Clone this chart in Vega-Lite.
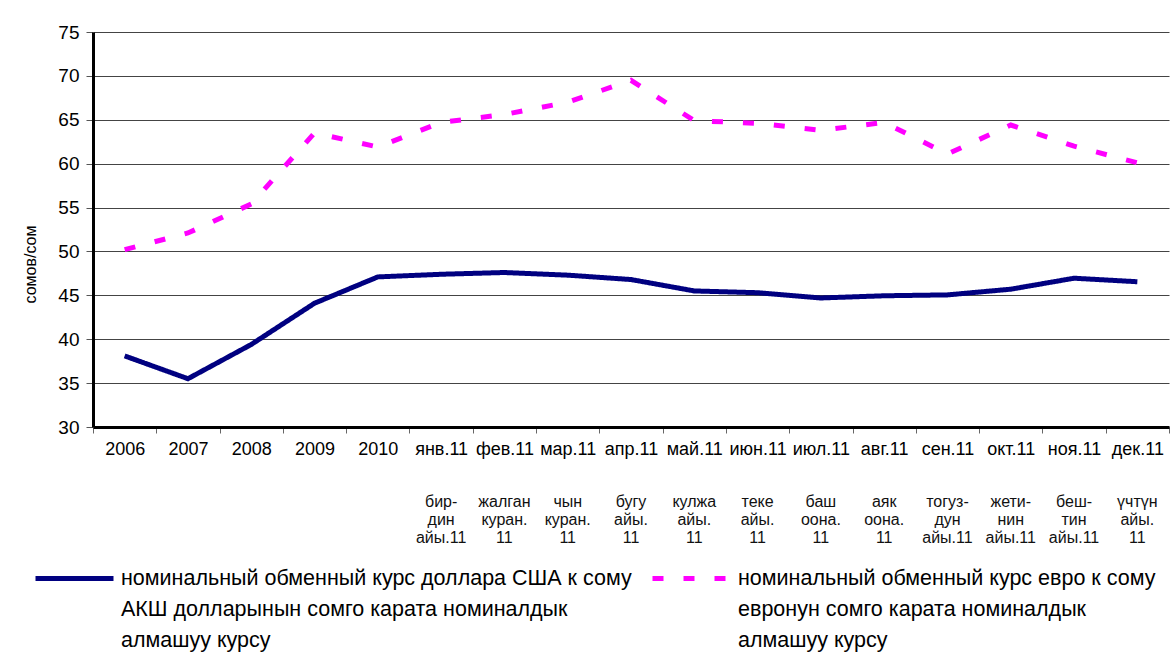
{
  "$schema": "https://vega.github.io/schema/vega-lite/v6.json",
  "width": 1076,
  "height": 395,
  "autosize": {"type": "none"},
  "padding": {"left": 93, "top": 32, "right": 2, "bottom": 228},
  "background": "white",
  "config": {"font": "Liberation Sans", "view": {"stroke": null}},
  "data": {
    "values": [
      {"cat": "2006", "series": "номинальный обменный курс доллара США к сому", "value": 38.1},
      {"cat": "2007", "series": "номинальный обменный курс доллара США к сому", "value": 35.5},
      {"cat": "2008", "series": "номинальный обменный курс доллара США к сому", "value": 39.4},
      {"cat": "2009", "series": "номинальный обменный курс доллара США к сому", "value": 44.1},
      {"cat": "2010", "series": "номинальный обменный курс доллара США к сому", "value": 47.1},
      {"cat": "янв.11", "series": "номинальный обменный курс доллара США к сому", "value": 47.4},
      {"cat": "фев.11", "series": "номинальный обменный курс доллара США к сому", "value": 47.6},
      {"cat": "мар.11", "series": "номинальный обменный курс доллара США к сому", "value": 47.3},
      {"cat": "апр.11", "series": "номинальный обменный курс доллара США к сому", "value": 46.8},
      {"cat": "май.11", "series": "номинальный обменный курс доллара США к сому", "value": 45.5},
      {"cat": "июн.11", "series": "номинальный обменный курс доллара США к сому", "value": 45.3},
      {"cat": "июл.11", "series": "номинальный обменный курс доллара США к сому", "value": 44.7},
      {"cat": "авг.11", "series": "номинальный обменный курс доллара США к сому", "value": 44.95},
      {"cat": "сен.11", "series": "номинальный обменный курс доллара США к сому", "value": 45.05},
      {"cat": "окт.11", "series": "номинальный обменный курс доллара США к сому", "value": 45.7},
      {"cat": "ноя.11", "series": "номинальный обменный курс доллара США к сому", "value": 46.95},
      {"cat": "дек.11", "series": "номинальный обменный курс доллара США к сому", "value": 46.55},
      {"cat": "2006", "series": "номинальный обменный курс евро к сому", "value": 50.2},
      {"cat": "2007", "series": "номинальный обменный курс евро к сому", "value": 52.1},
      {"cat": "2008", "series": "номинальный обменный курс евро к сому", "value": 55.4},
      {"cat": "2009", "series": "номинальный обменный курс евро к сому", "value": 63.5},
      {"cat": "2010", "series": "номинальный обменный курс евро к сому", "value": 61.9},
      {"cat": "янв.11", "series": "номинальный обменный курс евро к сому", "value": 64.7},
      {"cat": "фев.11", "series": "номинальный обменный курс евро к сому", "value": 65.6},
      {"cat": "мар.11", "series": "номинальный обменный курс евро к сому", "value": 67.0},
      {"cat": "апр.11", "series": "номинальный обменный курс евро к сому", "value": 69.5},
      {"cat": "май.11", "series": "номинальный обменный курс евро к сому", "value": 64.9},
      {"cat": "июн.11", "series": "номинальный обменный курс евро к сому", "value": 64.6},
      {"cat": "июл.11", "series": "номинальный обменный курс евро к сому", "value": 63.8},
      {"cat": "авг.11", "series": "номинальный обменный курс евро к сому", "value": 64.7},
      {"cat": "сен.11", "series": "номинальный обменный курс евро к сому", "value": 61.1},
      {"cat": "окт.11", "series": "номинальный обменный курс евро к сому", "value": 64.4},
      {"cat": "ноя.11", "series": "номинальный обменный курс евро к сому", "value": 62.0},
      {"cat": "дек.11", "series": "номинальный обменный курс евро к сому", "value": 60.1}
    ]
  },
  "layer": [
    {
      "mark": {"type": "line", "strokeWidth": 5, "strokeCap": "butt"},
      "encoding": {
        "x": {
          "field": "cat", "type": "ordinal", "sort": null,
          "scale": {"type": "band", "paddingInner": 0, "paddingOuter": 0,
            "domain": ["2006","2007","2008","2009","2010","янв.11","фев.11","мар.11","апр.11","май.11","июн.11","июл.11","авг.11","сен.11","окт.11","ноя.11","дек.11"]},
          "axis": {
            "orient": "bottom", "title": null, "labelAngle": 0, "labelFontSize": 18, "labelColor": "#000",
            "labelOverlap": false, "labelBound": false, "tickBand": "extent", "tickSize": 6, "tickColor": "#666",
            "domainColor": "#000", "domainWidth": 3, "labelPadding": 7, "grid": false
          }
        },
        "y": {
          "field": "value", "type": "quantitative",
          "scale": {"domain": [30, 75], "nice": false, "zero": false},
          "axis": {
            "values": [30, 35, 40, 45, 50, 55, 60, 65, 70, 75],
            "labelFontSize": 19, "labelColor": "#000", "tickColor": "#555", "tickSize": 7, "labelPadding": 7,
            "domainColor": "#000", "domainWidth": 3, "grid": true, "gridColor": "#444", "gridWidth": 1,
            "title": "сомов/сом", "titleFontSize": 16, "titleFontWeight": "normal", "titleColor": "#000",
            "titleX": -63, "titleY": 232, "titleAngle": 270, "titleBaseline": "middle", "titleAlign": "center"
          }
        },
        "color": {
          "field": "series", "type": "nominal",
          "scale": {"domain": ["номинальный обменный курс доллара США к сому", "номинальный обменный курс евро к сому"], "range": ["#000080", "#FF00FF"]},
          "legend": {
            "title": null, "orient": "none", "legendX": -60, "legendY": 505, "direction": "horizontal",
            "padding": 0, "columnPadding": 10, "symbolType": "stroke", "symbolSize": 6084, "symbolStrokeWidth": 5,
            "labelFontSize": 21.5, "labelColor": "#000", "labelOffset": 5, "labelLimit": 0,
            "labelExpr": "datum.label == 'номинальный обменный курс доллара США к сому' ? [datum.label, 'АКШ долларынын сомго карата номиналдык', 'алмашуу курсу'] : [datum.label, 'евронун сомго карата номиналдык', 'алмашуу курсу']",
            "encode": {"labels": {"update": {"lineHeight": {"value": 31}}}}
          }
        },
        "strokeDash": {
          "field": "series", "type": "nominal",
          "scale": {"domain": ["номинальный обменный курс доллара США к сому", "номинальный обменный курс евро к сому"], "range": [[1, 0], [11, 20]]},
          "legend": {
            "title": null, "orient": "none", "legendX": -60, "legendY": 505, "direction": "horizontal",
            "padding": 0, "columnPadding": 10, "symbolType": "stroke", "symbolSize": 6084, "symbolStrokeWidth": 5,
            "labelFontSize": 21.5, "labelColor": "#000", "labelOffset": 5, "labelLimit": 0,
            "labelExpr": "datum.label == 'номинальный обменный курс доллара США к сому' ? [datum.label, 'АКШ долларынын сомго карата номиналдык', 'алмашуу курсу'] : [datum.label, 'евронун сомго карата номиналдык', 'алмашуу курсу']",
            "encode": {"labels": {"update": {"lineHeight": {"value": 31}}}}
          }
        }
      }
    },
    {
      "mark": {"type": "point", "opacity": 0},
      "encoding": {
        "x": {
          "field": "cat", "type": "ordinal", "sort": null,
          "axis": {
            "orient": "bottom", "title": null, "labelAngle": 0, "domain": false, "ticks": false, "tickSize": 0,
            "labelPadding": 66, "labelFontSize": 16, "labelLineHeight": 18, "labelColor": "#111",
            "labelOverlap": false, "labelBound": false, "labelBaseline": "top", "grid": false,
            "labelExpr": "({'янв.11': ['бир-', 'дин', 'айы.11'], 'фев.11': ['жалган', 'куран.', '11'], 'мар.11': ['чын', 'куран.', '11'], 'апр.11': ['бугу', 'айы.', '11'], 'май.11': ['кулжа', 'айы.', '11'], 'июн.11': ['теке', 'айы.', '11'], 'июл.11': ['баш', 'оона.', '11'], 'авг.11': ['аяк', 'оона.', '11'], 'сен.11': ['тогуз-', 'дун', 'айы.11'], 'окт.11': ['жети-', 'нин', 'айы.11'], 'ноя.11': ['беш-', 'тин', 'айы.11'], 'дек.11': ['үчтүн', 'айы.', '11']})[datum.value] || ''"
          }
        },
        "y": {
          "field": "value", "type": "quantitative",
          "axis": {
            "values": [30, 35, 40, 45, 50, 55, 60, 65, 70, 75],
            "labelFontSize": 19, "labelColor": "#000", "tickColor": "#555", "tickSize": 7, "labelPadding": 7,
            "domainColor": "#000", "domainWidth": 3, "grid": true, "gridColor": "#444", "gridWidth": 1,
            "title": "сомов/сом", "titleFontSize": 16, "titleFontWeight": "normal", "titleColor": "#000",
            "titleX": -63, "titleY": 232, "titleAngle": 270, "titleBaseline": "middle", "titleAlign": "center"
          }
        }
      }
    }
  ],
  "resolve": {"axis": {"x": "independent"}}
}
